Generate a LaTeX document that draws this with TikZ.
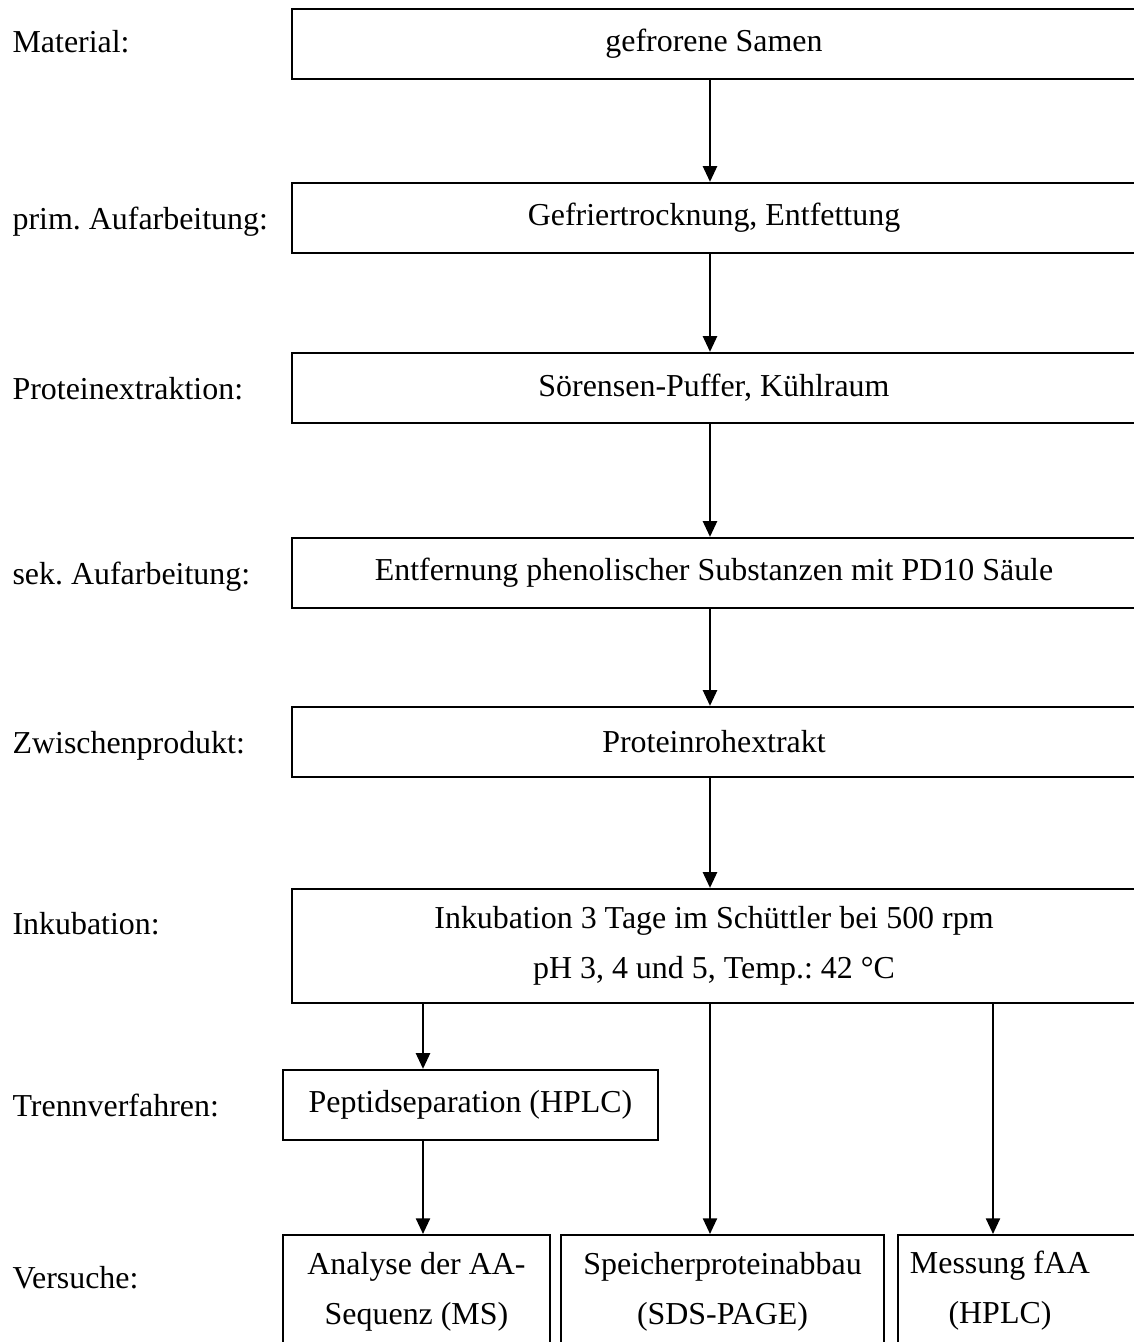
\documentclass[tikz,border=0pt]{standalone}
\usepackage{fontspec}
\setmainfont{Liberation Serif}
\frenchspacing
\usetikzlibrary{arrows.meta}
\tikzset{
    stage/.style={draw, line width=0.8pt, minimum width=301.4pt, minimum height=25pt, inner sep=0pt, align=center, font=\fontsize{11.4}{17.9}\selectfont},
    assay/.style={stage, anchor=north, minimum height=40.7pt},
    rowlabel/.style={anchor=base west, inner sep=0pt, font=\fontsize{11.4}{14}\selectfont},
    flow/.style={line width=0.8pt, -{Triangle[length=5.6pt, width=5pt]}},
    }

\begin{document}
\begin{tikzpicture}[x=0.357pt, y=-0.357pt]
    \useasboundingbox (0,0) rectangle (1134,1342);

    % row labels
    \node[rowlabel] (lmat)  at (12,52)   {Material:};
    \node[rowlabel] (lprim) at (12,229)  {prim. Aufarbeitung:};
    \node[rowlabel] (lext)  at (12,399)  {Proteinextraktion:};
    \node[rowlabel] (lsek)  at (12,584)  {sek. Aufarbeitung:};
    \node[rowlabel] (lzw)   at (12,753)  {Zwischenprodukt:};
    \node[rowlabel] (link)  at (12,934)  {Inkubation:};
    \node[rowlabel] (ltr)   at (12,1116) {Trennverfahren:};
    \node[rowlabel] (lvers) at (12,1288) {Versuche:};

    % main column
    \node[stage] (mat)  at (714,44)  {gefrorene Samen};
    \node[stage] (prim) at (714,218) {Gefriertrocknung, Entfettung};
    \node[stage] (ext)  at (714,388) {Sörensen-Puffer, Kühlraum};
    \node[stage] (sek)  at (714,573) {Entfernung phenolischer Substanzen mit PD10 Säule};
    \node[stage] (zw)   at (714,742) {Proteinrohextrakt};
    \node[stage, minimum height=40.7pt] (ink) at (714,946) {Inkubation 3 Tage im Schüttler bei 500 rpm\\pH 3, 4 und 5, Temp.: 42 °C};

    % separation and assays
    \node[stage, minimum width=133.9pt] (hplc) at (470.5,1105) {Peptidseparation (HPLC)};
    \node[assay, minimum width=95.4pt]  (ms)   at (416.5,1234) {Analyse der AA-\\Sequenz (MS)};
    \node[assay, minimum width=115.4pt] (sds)  at (722.5,1234) {Speicherproteinabbau\\(SDS-PAGE)};
    \node[assay, minimum width=90pt]    (faa)  at (1024,1234)  {};
    \node[stage, draw=none, minimum width=0pt] (faatxt) at (1000,1291) {Messung fAA\\(HPLC)};

    % connector columns
    \coordinate (colL) at (423,0);
    \coordinate (colM) at (710,0);
    \coordinate (colR) at (993,0);

    \draw[flow] (mat.south -| colM) -- (prim.north -| colM);
    \draw[flow] (prim.south -| colM) -- (ext.north -| colM);
    \draw[flow] (ext.south -| colM) -- (sek.north -| colM);
    \draw[flow] (sek.south -| colM) -- (zw.north -| colM);
    \draw[flow] (zw.south -| colM) -- (ink.north -| colM);

    \draw[flow] (ink.south -| colL) -- (hplc.north -| colL);
    \draw[flow] (hplc.south -| colL) -- (ms.north -| colL);
    \draw[flow] (ink.south -| colM) -- (sds.north -| colM);
    \draw[flow] (ink.south -| colR) -- (faa.north -| colR);

\end{tikzpicture}
\end{document}
